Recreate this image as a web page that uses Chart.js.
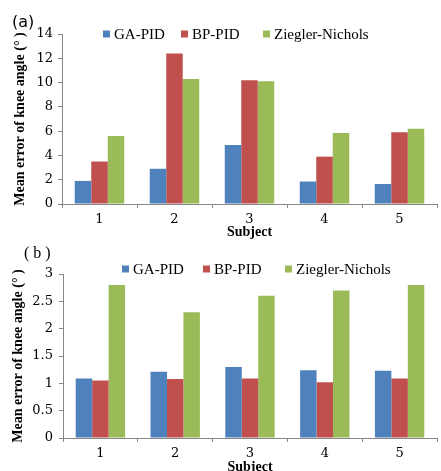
<!DOCTYPE html>
<html><head><meta charset="utf-8">
<script src="https://cdn.jsdelivr.net/npm/chart.js@4.4.0/dist/chart.umd.min.js"></script>
<style>
html,body{margin:0;padding:0;background:#fff;overflow:hidden;width:441px;height:471px;}
#wrap{position:relative;width:441px;height:471px;overflow:hidden;}
canvas{position:absolute;left:0;}
.lbl{position:absolute;color:#000;white-space:nowrap;line-height:1;}
#la{left:12px;top:12px;font:16px "DejaVu Sans",sans-serif;}
#lb{left:24px;top:244px;font:16px "Liberation Serif",serif;letter-spacing:4px;}
</style></head><body>
<div id="wrap">
<canvas id="ca" width="441" height="240" style="top:0;width:441px;height:240px"></canvas>
<canvas id="cb" width="441" height="235" style="top:240px;width:441px;height:235px"></canvas>
<div id="la" class="lbl">(a)</div>
<div id="lb" class="lbl">(b)</div>
</div>
<script>
const subjects = ['1', '2', '3', '4', '5'];
const seriesNames = ['GA-PID', 'BP-PID', 'Ziegler-Nichols'];
const seriesColors = ['#4F81BD', '#C0504D', '#9BBB59'];

const gaA = [1.9, 2.9, 4.85, 1.85, 1.65];
const bpA = [3.5, 12.4, 10.2, 3.9, 5.9];
const znA = [5.6, 10.3, 10.1, 5.85, 6.2];

const gaB = [1.09, 1.21, 1.30, 1.24, 1.23];
const bpB = [1.05, 1.08, 1.09, 1.02, 1.09];
const znB = [2.8, 2.3, 2.6, 2.7, 2.8];

const yMaxA = 14, yStepA = 2;
const yMaxB = 3, yStepB = 0.5;

const xTitle = 'Subject';
const yTitle = 'Mean error of knee angle (° )';

Chart.defaults.color = '#000';
Chart.defaults.animation = false;

const legendPlugin = {
  id: 'customLegend',
  afterDraw(chart, args, opts) {
    const ctx = chart.ctx;
    ctx.save();
    ctx.font = opts.font;
    ctx.textBaseline = 'middle';
    ctx.textAlign = 'left';
    chart.data.datasets.forEach((ds, i) => {
      const x = opts.xs[i];
      ctx.fillStyle = ds.backgroundColor;
      ctx.fillRect(x, opts.y - opts.box / 2, opts.box, opts.box);
      ctx.fillStyle = '#000';
      ctx.fillText(ds.label, x + opts.textOffset, opts.y + 1);
    });
    ctx.restore();
  }
};

function makeChart(id, series, yMax, yStep, cfg) {
  return new Chart(document.getElementById(id), {
    type: 'bar',
    data: {
      labels: subjects,
      datasets: series.map((vals, i) => ({
        label: seriesNames[i],
        data: vals,
        backgroundColor: seriesColors[i],
        borderWidth: 0,
        categoryPercentage: 0.66,
        barPercentage: 1.0
      }))
    },
    options: {
      responsive: false,
      animation: false,
      layout: { padding: { left: 0, right: 4, top: 34, bottom: 0 } },
      plugins: {
        legend: { display: false },
        tooltip: { enabled: false },
        customLegend: { xs: cfg.legendXs, y: cfg.legendY, box: 7, textOffset: 11,
          font: '15px "Liberation Serif", serif' }
      },
      scales: {
        x: {
          afterFit(s) { s.height = cfg.xHeight; },
          grid: { drawOnChartArea: false, drawTicks: true, tickLength: 4, color: '#878787', offset: true },
          border: { color: '#878787', width: 1 },
          ticks: { font: { family: 'DejaVu Serif', size: 13 }, padding: 4, color: '#000' },
          title: { display: true, text: xTitle, color: '#000',
            font: { family: 'Liberation Serif', size: 14, weight: 'bold', lineHeight: 1 },
            padding: { top: 0, bottom: cfg.xTitlePad } }
        },
        y: {
          min: 0, max: yMax,
          afterFit(s) { s.width = cfg.yWidth; },
          grid: { drawOnChartArea: false, drawTicks: true, tickLength: 4, color: '#878787' },
          border: { color: '#878787', width: 1 },
          ticks: { stepSize: yStep, font: { family: 'DejaVu Serif', size: 13 }, padding: cfg.yTickPad, color: '#000',
            callback: (v) => String(Number(v)) },
          title: { display: true, text: yTitle, color: '#000',
            font: { family: 'Liberation Serif', size: 14, weight: 'bold', lineHeight: 1 },
            padding: { top: cfg.yTitlePad, bottom: 0 } }
        }
      }
    },
    plugins: [legendPlugin]
  });
}

makeChart('ca', [gaA, bpA, znA], yMaxA, yStepA, {
  legendXs: [103, 181, 263], legendY: 34, xHeight: 36, xTitlePad: 1,
  yWidth: 62, yTickPad: 5, yTitlePad: 13
});
makeChart('cb', [gaB, bpB, znB], yMaxB, yStepB, {
  legendXs: [122, 203, 285], legendY: 29, xHeight: 37, xTitlePad: 1,
  yWidth: 63, yTickPad: 6, yTitlePad: 11
});
</script>
</body></html>
